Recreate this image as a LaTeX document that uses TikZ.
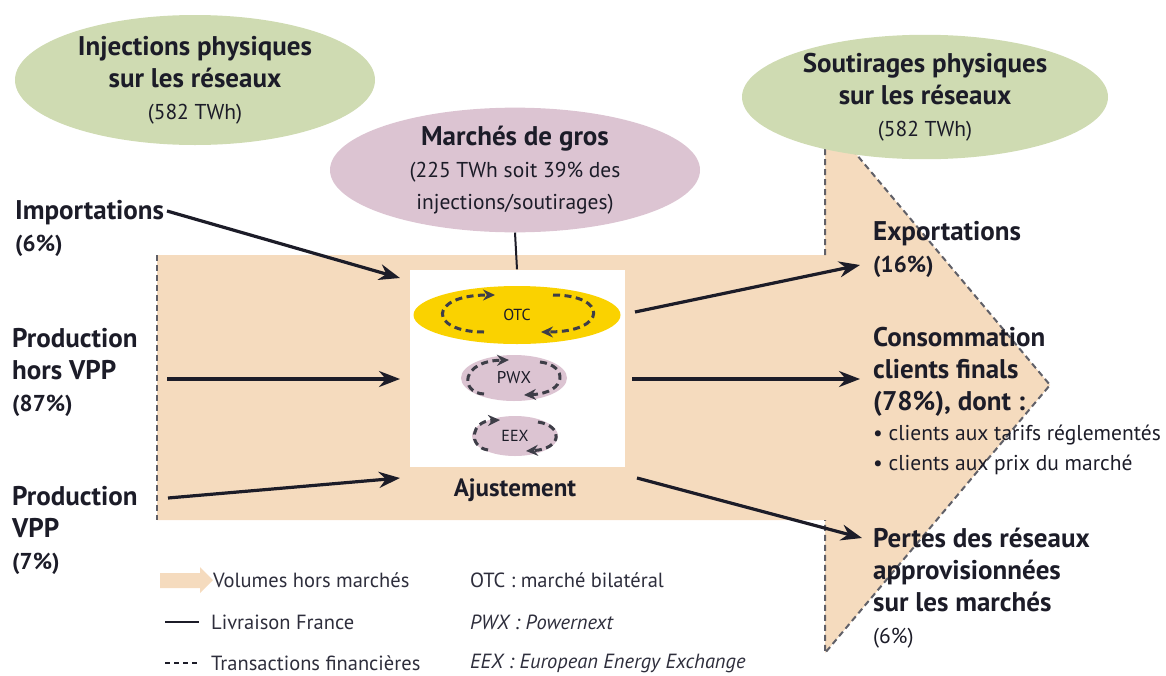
\documentclass[tikz,border=0pt]{standalone}
\usepackage{fontspec}
\setmainfont{PT Sans}
\usetikzlibrary{shapes.geometric,arrows.meta}
\definecolor{beige}{HTML}{F5DBBE}
\definecolor{vert}{HTML}{CFDBB2}
\definecolor{mauve}{HTML}{DCC4D2}
\definecolor{otcjaune}{HTML}{FAD200}
\definecolor{encre}{HTML}{1C1C28}
\definecolor{legende}{HTML}{2E2E3C}
\tikzset{
  gras/.style={font=\bfseries\fontsize{27}{32}\selectfont, text=encre, align=left, inner sep=0pt},
  bulle/.style={ellipse, inner sep=0pt, align=center, text=encre, font=\bfseries\fontsize{27}{32}\selectfont},
  fleche/.style={line width=3.2pt, draw=encre, -{Stealth[length=21pt,width=16pt]}},
  boucle/.style={line width=3pt, draw=encre!85, dash pattern=on 7pt off 4.5pt, -{Stealth[length=12pt,width=11pt]}},
  contour/.style={draw=encre!70, line width=2pt, dash pattern=on 6pt off 4pt},
  leg/.style={font=\fontsize{20.5}{22}\selectfont, text=legende, anchor=west, inner sep=0pt}
}
\newcommand{\petit}{\mdseries\fontsize{21.5}{24}\selectfont}
\newcommand{\moyen}{\bfseries\fontsize{23}{24}\selectfont}
\begin{document}
\begin{tikzpicture}[x=1pt,y=-1pt]
\useasboundingbox (0,0) rectangle (1166,675);
% grande fleche des volumes
\fill[beige] (157,255) -- (825,255) -- (825,117) -- (1050,385) -- (825,653) -- (825,520) -- (157,520) -- cycle;
\draw[contour] (157,255) -- (157,520);
\draw[contour] (825,255) -- (825,117) -- (1050,385) -- (825,653) -- (825,520);
% bulles du haut
\node[bulle, fill=vert, minimum width=360pt, minimum height=130pt] (inj) at (195,80)
  {Injections physiques\\sur les réseaux\\{\petit (582 TWh)}};
\node[bulle, fill=vert, minimum width=366pt, minimum height=112pt] (sout) at (925,97)
  {Soutirages physiques\\sur les réseaux\\{\petit (582 TWh)}};
\node[bulle, fill=mauve, minimum width=370pt, minimum height=120pt] (gros) at (515,170)
  {Marchés de gros\\{\petit (225 TWh soit 39\% des}\\{\petit injections/soutirages)}};
% bourse
\node[fill=white, minimum width=215pt, minimum height=197pt, inner sep=0pt] (bourse) at (517,368) {};
\draw[line width=2pt, encre] (gros.south) -- (bourse.north);
\node[bulle, fill=otcjaune, minimum width=207pt, minimum height=58pt, font=\fontsize{16}{16}\selectfont] (otc) at (517,315) {OTC};
\node[bulle, fill=mauve, minimum width=106pt, minimum height=46pt, font=\fontsize{17}{17}\selectfont] (pwx) at (514,378) {PWX};
\node[bulle, fill=mauve, minimum width=86pt, minimum height=40pt, font=\fontsize{16}{16}\selectfont] (eex) at (515,436) {EEX};
\draw[boucle] (484,332) .. controls (428,332) and (428,295) .. (495,295);
\draw[boucle] (553,295) .. controls (608,295) and (608,332) .. (541,332);
\draw[boucle] (484,394) .. controls (460,393) and (460,361) .. (509,360);
\draw[boucle] (540,362) .. controls (568,365) and (568,393) .. (524,395);
\draw[boucle] (488,450) .. controls (468,447) and (470,421) .. (500,420);
\draw[boucle] (538,422) .. controls (564,426) and (562,449) .. (526,451);
\node[gras, font=\bfseries\fontsize{25}{30}\selectfont] (ajust) at (515,490) {Ajustement};
% sources
\node[gras, anchor=west] (imp) at (15,228) {Importations\\{\moyen (6\%)}};
\node[gras, anchor=west] (horsvpp) at (12,372) {Production\\hors VPP\\{\moyen (87\%)}};
\node[gras, anchor=west] (vpp) at (12,530) {Production\\VPP\\{\moyen (7\%)}};
% emplois
\node[gras, anchor=west] (exp) at (873,249) {Exportations\\{\moyen (16\%)}};
\node[gras, anchor=west] (conso) at (873,401)
  {Consommation\\clients finals\\(78\%), dont :\\[-2pt]{\petit • clients aux tarifs réglementés}\\[-2pt]{\petit • clients aux prix du marché}};
\node[gras, anchor=west] (pertes) at (873,588)
  {Pertes des réseaux\\approvisionnées\\sur les marchés\\{\petit (6\%)}};
% connecteurs
\coordinate (impA) at (167,211);
\coordinate (impB) at (400,278);
\coordinate (hvA) at (167,379);
\coordinate (hvB) at (400,379);
\coordinate (vppA) at (168,498);
\coordinate (vppB) at (400,478);
\coordinate (expA) at (635,312);
\coordinate (expB) at (860,265);
\coordinate (conA) at (632,379);
\coordinate (conB) at (860,379);
\coordinate (perA) at (637,478);
\coordinate (perB) at (862,538);
\draw[fleche] (impA) -- (impB);
\draw[fleche] (hvA) -- (hvB);
\draw[fleche] (vppA) -- (vppB);
\draw[fleche] (expA) -- (expB);
\draw[fleche] (conA) -- (conB);
\draw[fleche] (perA) -- (perB);
% legende
\fill[beige] (160,573) -- (200,573) -- (200,567) -- (213,580) -- (200,593) -- (200,588) -- (160,588) -- cycle;
\draw[line width=2.5pt, encre] (165,622) -- (199,622);
\draw[line width=2.5pt, encre, dash pattern=on 5pt off 4pt] (165,663) -- (199,663);
\node[leg] (l1) at (213,580) {Volumes hors marchés};
\node[leg] (l2) at (211,622) {Livraison France};
\node[leg] (l3) at (211,663) {Transactions financières};
\node[leg] (l4) at (470,580) {OTC : marché bilatéral};
\node[leg, font=\itshape\fontsize{20.5}{22}\selectfont] (l5) at (470,622) {PWX : Powernext};
\node[leg, font=\itshape\fontsize{20.5}{22}\selectfont] (l6) at (470,663) {EEX : European Energy Exchange};
\end{tikzpicture}
\end{document}
